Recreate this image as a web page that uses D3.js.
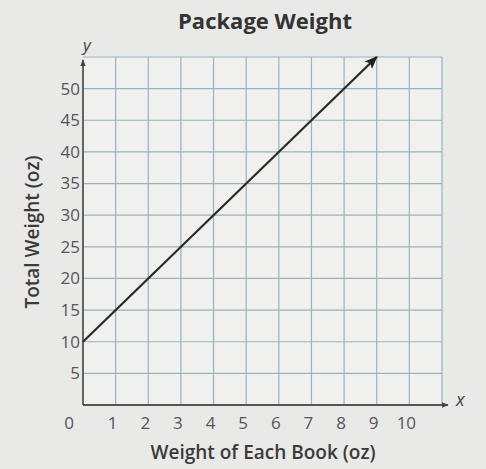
<!DOCTYPE html>
<html><head><meta charset="utf-8">
<script src="https://cdn.jsdelivr.net/npm/d3@7"></script>
<style>
html,body{margin:0;padding:0;background:#e9e9e7;}
svg{display:block;font-family:"Open Sans",sans-serif;}
</style></head>
<body>
<svg id="chart" width="486" height="469"></svg>
<script>
const title = "Package Weight";
const xLabel = "Weight of Each Book (oz)";
const yLabel = "Total Weight (oz)";
const xTicks = [0,1,2,3,4,5,6,7,8,9,10];
const yTicks = [0,5,10,15,20,25,30,35,40,45,50];
const xGrid = [1,2,3,4,5,6,7,8,9,10,11];
const yGrid = [5,10,15,20,25,30,35,40,45,50,55];
const lineX = [0, 9];
const lineY = [10, 55];

const svg = d3.select("#chart");
const W = 486, H = 469;
svg.append("rect").attr("width",W).attr("height",H).attr("fill","#e9e9e7");

const x = d3.scaleLinear().domain([0,11]).range([83,442]);
const y = d3.scaleLinear().domain([0,55]).range([405,57]);

// plot background
svg.append("rect").attr("x",x(0)).attr("y",y(55)).attr("width",x(11)-x(0)).attr("height",y(0)-y(55)).attr("fill","#f0f0ee");

// grid
const g = svg.append("g");
g.selectAll(".vg").data(xGrid).join("line")
  .attr("x1",d=>x(d)).attr("x2",d=>x(d)).attr("y1",y(0)).attr("y2",y(55))
  .attr("stroke","#97b3bf").attr("stroke-width",1.2);
g.selectAll(".hg").data(yGrid).join("line")
  .attr("x1",x(0)).attr("x2",x(11)).attr("y1",d=>y(d)).attr("y2",d=>y(d))
  .attr("stroke","#97b3bf").attr("stroke-width",1.2);

// arrow markers
const defs = svg.append("defs");
defs.append("marker").attr("id","ax").attr("viewBox","0 0 10 10").attr("refX",9).attr("refY",5)
  .attr("markerWidth",7).attr("markerHeight",7).attr("orient","auto-start-reverse").attr("markerUnits","userSpaceOnUse")
  .append("path").attr("d","M0,1 L10,5 L0,9 z").attr("fill","#444");
defs.append("marker").attr("id","ln").attr("viewBox","0 0 10 10").attr("refX",9).attr("refY",5)
  .attr("markerWidth",13).attr("markerHeight",13).attr("orient","auto").attr("markerUnits","userSpaceOnUse")
  .append("path").attr("d","M0,1 L10,5 L0,9 L2,5 z").attr("fill","#222");

// axes
svg.append("line").attr("x1",x(0)).attr("y1",y(0)).attr("x2",x(11)+6).attr("y2",y(0))
  .attr("stroke","#555").attr("stroke-width",1.8).attr("marker-end","url(#ax)");
svg.append("line").attr("x1",x(0)).attr("y1",y(0)).attr("x2",x(0)).attr("y2",y(55)+3)
  .attr("stroke","#555").attr("stroke-width",1.8).attr("marker-end","url(#ax)");

// axis letters
svg.append("text").attr("x",x(11)+14).attr("y",y(0)-4).attr("font-size",18).attr("font-style","italic")
  .attr("fill","#444").attr("dominant-baseline","middle").text("x");
svg.append("text").attr("x",x(0)+4).attr("y",y(55)-6).attr("font-size",17).attr("font-style","italic")
  .attr("fill","#444").attr("text-anchor","middle").text("y");

// tick labels
svg.selectAll(".xt").data(xTicks).join("text")
  .attr("x",d=>d===0 ? x(0)-14 : x(d)-3).attr("y",y(0)+18).attr("dy","0.35em")
  .attr("text-anchor","middle").attr("font-size",17).attr("fill","#555").text(d=>d);
svg.selectAll(".yt").data(yTicks.filter(d=>d>0)).join("text")
  .attr("x",x(0)-3).attr("y",d=>y(d)).attr("dy","0.35em")
  .attr("text-anchor","end").attr("font-size",17).attr("fill","#555").text(d=>d);

// data line
const line = d3.line().x(d=>x(d[0])).y(d=>y(d[1]));
svg.append("path").datum(lineX.map((v,i)=>[v,lineY[i]]))
  .attr("d",line).attr("fill","none").attr("stroke","#2a2a2a").attr("stroke-width",2.2)
  .attr("marker-end","url(#ln)");

// titles
svg.append("text").attr("x",265).attr("y",29).attr("text-anchor","middle")
  .attr("font-size",22).attr("font-weight","bold").attr("fill","#333").text(title);
svg.append("text").attr("x",263).attr("y",459).attr("text-anchor","middle")
  .attr("font-size",19).attr("font-weight","600").attr("fill","#3a3a3a").text(xLabel);
svg.append("text").attr("transform","translate(39,232) rotate(-90)").attr("text-anchor","middle")
  .attr("font-size",19).attr("font-weight","600").attr("fill","#3a3a3a").text(yLabel);
</script>
</body></html>
